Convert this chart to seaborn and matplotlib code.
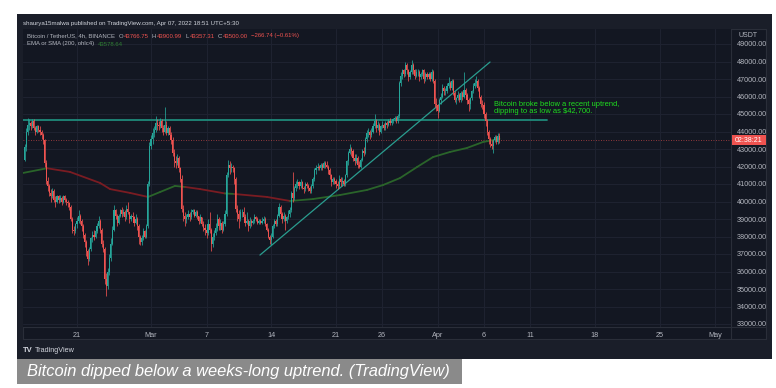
import numpy as np
import pandas as pd
import matplotlib
matplotlib.use("Agg")
import matplotlib.pyplot as plt
import seaborn as sns
from matplotlib import font_manager as fm
from matplotlib.patches import Rectangle
from matplotlib.transforms import blended_transform_factory, Bbox, TransformedBbox

# ---------------- data (prices in thousands of USDT, 4h candles) ----------------
first_candle = "2022-02-15 08:00"
first_open_k = 42.4
close_k = [
    43.1, 44.0, 44.4, 44.5,                      # Feb 15 (from 08:00)
    44.3, 44.6, 44.2, 44.0, 44.3, 44.1,          # Feb 16
    44.0, 43.8, 43.5, 42.2, 41.2, 40.9,          # Feb 17
    40.5, 40.3, 40.6, 40.1, 40.0, 40.3,          # Feb 18
    40.1, 40.2, 40.0, 40.3, 40.1, 40.0,          # Feb 19
    39.9, 39.7, 39.0, 38.4, 38.3, 38.7,          # Feb 20
    38.9, 39.2, 38.9, 38.6, 38.1, 37.7,          # Feb 21
    37.2, 36.7, 37.3, 37.9, 38.1, 38.0,          # Feb 22
    38.3, 38.6, 38.9, 38.4, 37.6, 37.3,          # Feb 23
    35.6, 35.2, 36.0, 36.8, 37.6, 38.4,          # Feb 24
    39.5, 39.2, 38.8, 39.2, 39.5, 39.3,          # Feb 25
    39.4, 39.1, 39.6, 39.4, 39.0, 39.2,          # Feb 26
    39.1, 38.8, 39.0, 38.6, 38.0, 37.7,          # Feb 27
    37.9, 38.3, 38.0, 38.6, 41.0, 43.2,          # Feb 28
    43.6, 43.9, 44.1, 44.5, 44.4, 44.3,          # Mar 1
    44.6, 44.2, 44.0, 44.4, 43.9, 44.2,          # Mar 2
    43.8, 43.5, 42.8, 42.3, 42.2, 42.5,          # Mar 3
    41.9, 41.3, 39.6, 39.2, 39.0, 39.1,          # Mar 4
    39.3, 39.1, 39.4, 39.5, 39.2, 39.4,          # Mar 5
    39.2, 38.9, 39.1, 38.7, 38.5, 38.4,          # Mar 6
    38.2, 38.7, 38.4, 37.6, 38.0, 38.2,          # Mar 7
    38.5, 39.0, 38.6, 38.8, 38.4, 38.7,          # Mar 8
    39.3, 41.5, 42.1, 41.9, 42.0, 41.9,          # Mar 9
    41.3, 39.6, 39.3, 39.0, 39.4, 39.4,          # Mar 10
    39.1, 38.8, 38.9, 38.6, 38.9, 38.8,          # Mar 11
    38.9, 39.1, 39.0, 38.8, 38.9, 38.8,          # Mar 12
    38.9, 39.0, 38.7, 38.4, 38.0, 37.8,          # Mar 13
    38.0, 38.6, 38.9, 38.7, 39.2, 39.7,          # Mar 14
    39.3, 39.0, 39.2, 38.9, 39.1, 39.3,          # Mar 15
    39.5, 40.5, 40.2, 40.8, 41.0, 41.1,          # Mar 16
    40.9, 41.1, 40.8, 40.7, 41.0, 40.9,          # Mar 17
    40.8, 40.6, 40.9, 41.3, 41.8, 41.9,          # Mar 18
    42.0, 41.9, 42.1, 41.9, 42.2, 42.1,          # Mar 19
    42.0, 41.8, 41.5, 41.1, 41.3, 41.2,          # Mar 20
    41.0, 40.9, 41.3, 41.1, 41.2, 41.0,          # Mar 21
    41.5, 42.3, 42.8, 43.0, 42.9, 42.5,          # Mar 22
    42.3, 42.5, 42.1, 42.0, 42.4, 42.9,          # Mar 23
    42.8, 43.6, 43.9, 44.0, 43.8, 44.0,          # Mar 24
    44.3, 44.6, 44.2, 44.4, 44.0, 44.3,          # Mar 25
    44.4, 44.2, 44.5, 44.4, 44.6, 44.5,          # Mar 26
    44.6, 44.7, 44.8, 44.6, 44.9, 46.8,          # Mar 27
    47.2, 47.5, 47.3, 47.8, 47.5, 47.1,          # Mar 28
    47.4, 47.8, 47.5, 47.2, 47.4, 47.4,          # Mar 29
    47.1, 47.3, 47.5, 47.0, 47.3, 47.1,          # Mar 30
    47.3, 47.0, 47.4, 46.9, 45.6, 45.5,          # Mar 31
    45.2, 45.8, 46.0, 46.5, 46.3, 46.3,          # Apr 1
    46.6, 46.8, 46.5, 46.9, 46.2, 45.8,          # Apr 2
    45.9, 46.1, 45.8, 46.2, 46.0, 46.4,          # Apr 3
    46.1, 45.8, 45.6, 45.9, 46.3, 46.6,          # Apr 4
    46.8, 46.9, 46.5, 46.0, 45.6, 45.5,          # Apr 5
    45.0, 44.6, 44.0, 43.6, 43.3, 43.2,          # Apr 6
    43.5, 43.7, 43.4, 43.767, 43.5,              # Apr 7
]
high_k = [
    43.3, 44.2, 44.8, 44.7,
    44.6, 44.7, 44.7, 44.3, 44.4, 44.4,
    44.3, 44.1, 43.9, 43.6, 42.4, 41.4,
    41.0, 40.7, 40.8, 40.7, 40.3, 40.4,
    40.4, 40.4, 40.3, 40.4, 40.4, 40.2,
    40.1, 40.0, 39.8, 39.1, 38.6, 38.8,
    39.1, 39.5, 39.3, 39.0, 38.7, 38.2,
    37.8, 37.3, 37.4, 38.0, 38.3, 38.4,
    38.5, 38.8, 39.2, 39.0, 38.5, 37.8,
    37.4, 35.9, 36.2, 37.0, 37.9, 38.6,
    39.8, 39.6, 39.3, 39.3, 39.6, 39.7,
    39.6, 39.5, 39.8, 40.0, 39.4, 39.3,
    39.4, 39.2, 39.3, 39.1, 38.7, 38.1,
    38.1, 38.5, 38.4, 38.7, 41.2, 43.4,
    43.8, 44.2, 44.3, 44.9, 44.7, 44.6,
    44.8, 44.7, 44.4, 45.4, 44.6, 44.3,
    44.3, 44.0, 43.7, 43.0, 42.6, 42.7,
    42.6, 42.0, 41.5, 39.8, 39.4, 39.3,
    39.5, 39.4, 39.6, 39.6, 39.6, 39.5,
    39.5, 39.2, 39.3, 39.1, 38.9, 38.7,
    38.5, 39.0, 39.4, 38.5, 38.2, 38.4,
    38.8, 39.3, 39.1, 39.0, 38.9, 38.9,
    39.5, 41.7, 42.4, 42.3, 42.2, 42.1,
    42.0, 41.4, 39.8, 39.5, 39.6, 39.6,
    39.7, 39.3, 39.4, 39.0, 39.1, 39.0,
    39.0, 39.3, 39.2, 39.1, 39.0, 39.0,
    39.1, 39.2, 39.1, 38.8, 38.5, 38.1,
    38.2, 38.7, 39.0, 39.0, 39.3, 39.9,
    39.8, 39.4, 39.4, 39.3, 39.2, 39.5,
    39.7, 40.6, 41.7, 40.9, 41.2, 41.3,
    41.2, 41.3, 41.2, 40.9, 41.1, 41.1,
    41.0, 40.9, 41.0, 41.4, 41.9, 42.1,
    42.2, 42.1, 42.2, 42.2, 42.3, 42.3,
    42.3, 42.1, 41.9, 41.6, 41.4, 41.4,
    41.3, 41.2, 41.5, 41.4, 41.4, 41.3,
    41.6, 42.4, 42.9, 43.3, 43.1, 43.0,
    42.7, 42.7, 42.6, 42.3, 42.5, 43.0,
    43.1, 43.7, 44.1, 44.2, 44.1, 44.2,
    44.5, 45.0, 44.7, 44.6, 44.5, 44.4,
    44.6, 44.5, 44.6, 44.6, 44.7, 44.8,
    44.7, 44.8, 44.9, 44.9, 45.0, 46.9,
    47.4, 47.6, 47.6, 48.0, 47.9, 47.6,
    47.5, 48.1, 47.9, 47.6, 47.6, 47.6,
    47.5, 47.4, 47.6, 47.6, 47.4, 47.4,
    47.4, 47.4, 47.6, 47.5, 47.0, 45.9,
    45.6, 45.9, 46.2, 46.7, 46.6, 46.5,
    46.8, 47.1, 46.9, 47.0, 47.0, 46.3,
    46.0, 46.3, 46.2, 46.3, 46.3, 47.4,
    46.5, 46.2, 45.9, 46.0, 46.4, 46.8,
    47.0, 47.2, 47.0, 46.6, 46.1, 45.8,
    45.7, 45.1, 44.7, 44.1, 43.7, 43.5,
    43.6, 43.8, 43.8, 43.9, 43.901,
]
low_k = [
    42.3, 42.9, 43.8, 44.1,
    44.1, 44.2, 44.1, 43.8, 43.9, 44.0,
    43.8, 43.6, 43.3, 42.0, 41.0, 40.6,
    40.3, 40.0, 40.2, 40.0, 39.7, 39.9,
    39.9, 40.0, 39.8, 39.9, 40.0, 39.8,
    39.7, 39.5, 38.9, 38.2, 38.1, 38.2,
    38.5, 38.8, 38.7, 38.3, 37.9, 37.4,
    36.9, 36.4, 36.6, 37.2, 37.7, 37.8,
    37.9, 38.2, 38.5, 38.2, 37.4, 37.1,
    35.3, 34.6, 35.0, 35.8, 36.6, 37.5,
    38.3, 39.0, 38.6, 38.7, 39.1, 39.1,
    39.2, 38.9, 39.0, 39.3, 38.8, 38.9,
    38.9, 38.6, 38.7, 38.4, 37.6, 37.5,
    37.5, 37.8, 37.9, 37.9, 38.5, 40.9,
    43.0, 43.3, 43.7, 44.0, 44.1, 44.1,
    44.2, 44.0, 43.8, 43.9, 43.8, 43.8,
    43.6, 43.3, 42.6, 42.0, 41.9, 42.1,
    41.7, 41.1, 39.4, 38.9, 38.6, 38.8,
    39.0, 38.9, 39.0, 39.3, 39.1, 39.1,
    39.0, 38.7, 38.8, 38.6, 38.3, 38.1,
    37.9, 38.1, 38.2, 37.2, 37.4, 37.8,
    38.1, 38.3, 38.4, 38.4, 38.2, 38.3,
    38.6, 39.2, 41.4, 41.6, 41.7, 41.7,
    41.0, 39.4, 38.9, 38.5, 38.9, 39.1,
    38.9, 38.6, 38.7, 38.3, 38.5, 38.6,
    38.7, 38.8, 38.9, 38.7, 38.7, 38.7,
    38.7, 38.8, 38.6, 38.3, 37.9, 37.6,
    37.5, 37.9, 38.5, 38.6, 38.6, 39.1,
    39.1, 38.8, 38.9, 38.4, 38.8, 39.0,
    39.1, 39.4, 40.0, 40.1, 40.6, 40.8,
    40.7, 40.8, 40.7, 40.5, 40.6, 40.8,
    40.6, 40.5, 40.5, 40.8, 41.2, 41.6,
    41.8, 41.8, 41.8, 41.8, 41.9, 41.9,
    41.9, 41.6, 41.3, 40.9, 41.0, 41.0,
    40.8, 40.7, 40.8, 40.9, 40.9, 40.9,
    40.9, 41.4, 42.1, 42.7, 42.6, 42.3,
    42.1, 42.2, 41.9, 41.9, 41.9, 42.3,
    42.6, 42.7, 43.4, 43.7, 43.6, 43.7,
    43.9, 44.2, 44.0, 44.1, 43.8, 43.9,
    44.2, 44.1, 44.1, 44.2, 44.3, 44.4,
    44.4, 44.5, 44.6, 44.5, 44.5, 44.8,
    46.6, 47.0, 47.1, 47.2, 47.3, 46.9,
    47.0, 47.3, 47.3, 47.0, 47.1, 47.2,
    46.9, 47.0, 47.2, 46.8, 46.9, 47.0,
    47.0, 46.9, 46.9, 46.8, 45.4, 45.2,
    44.8, 45.1, 45.6, 45.9, 46.1, 46.1,
    46.2, 46.5, 46.4, 46.4, 46.1, 45.7,
    45.6, 45.8, 45.7, 45.7, 45.8, 45.9,
    45.9, 45.6, 45.2, 45.3, 45.8, 46.2,
    46.5, 46.6, 46.3, 45.9, 45.4, 45.3,
    44.8, 44.3, 43.8, 43.3, 43.1, 43.0,
    42.75, 43.4, 43.3, 43.3, 43.357,
]

# 200-period moving average (day 0 = Feb 21)
ma_day = [-5.84, -3.24, -0.76, 2.49, 3.57, 5.73, 7.68, 8.97, 10.59, 11.70, 13.30,
          16.00, 17.00, 20.54, 23.03, 25.51, 28.43, 31.35, 33.08, 34.92, 36.76,
          38.49, 40.32, 42.16, 43.89, 45.67]
ma_k = [41.63, 41.90, 41.69, 41.06, 40.71, 40.49, 40.26, 40.54, 40.89, 40.83, 40.71,
        40.46, 40.43, 40.26, 40.03, 40.14, 40.37, 40.66, 40.94, 41.34, 41.97,
        42.54, 42.83, 43.06, 43.40, 43.58]
ma_segment_above = [1, 0, 0, 0, 0, 0, 1, 1, 1, 0, 0, 1, 0, 0, 1, 1, 1, 1, 1, 1, 1, 1, 1, 1, 1]

# drawings
resistance_k = 44.66
resistance_end_day = 50.8
uptrend_day = [19.78, 44.65]
uptrend_k = [36.94, 47.97]
last_price = 43500.0

tick_dates = ["2022-02-21", "2022-03-01", "2022-03-07", "2022-03-14", "2022-03-21", "2022-03-26",
              "2022-04-01", "2022-04-06", "2022-04-11", "2022-04-18", "2022-04-25", "2022-05-01"]
tick_labels = ["21", "Mar", "7", "14", "21", "26", "Apr", "6", "11", "18", "25", "May"]
price_ticks = list(range(33000, 50000, 1000))

# ---------------- style ----------------
sns.set_theme(style="dark")

def has_font(name):
    try:
        fm.findfont(fm.FontProperties(family=name), fallback_to_default=False)
        return True
    except Exception:
        return False

NARROW = "Liberation Sans Narrow" if has_font("Liberation Sans Narrow") else "Liberation Sans"
plt.rcParams["font.family"] = [NARROW, "DejaVu Sans"]

BG_OUT = "#1a1e29"
PANE = "#131722"
GRID = "#1e2230"
BORDER = "#2a2e39"
UP = "#26a69a"
DOWN = "#ef5350"
TXT = "#b2b5be"

W, H = 776, 388
fig = plt.figure(figsize=(W / 100, H / 100), dpi=100)
fig.patch.set_facecolor("white")

def rect(x0, y0, x1, y1):
    return [x0 / W, 1 - y1 / H, (x1 - x0) / W, (y1 - y0) / H]

# background layer (pixel coords)
axb = fig.add_axes([0, 0, 1, 1], zorder=0)
axb.set_xlim(0, W); axb.set_ylim(H, 0); axb.axis("off")
axb.add_patch(Rectangle((17, 14), 755, 345, color=BG_OUT, lw=0))
axb.add_patch(Rectangle((23, 29), 743, 310, color=PANE, lw=0))
for (x0, y0, x1, y1) in [(23, 29, 766, 29), (23, 339, 766, 339), (23, 29, 23, 339),
                         (766, 29, 766, 339), (731, 29, 731, 339), (23, 327, 766, 327)]:
    axb.plot([x0, x1], [y0, y1], color=BORDER, lw=0.8)
axb.add_patch(Rectangle((17, 359), 445, 25, color="#8a8a8a", lw=0))

# main pane
PX0, PX1, PY0, PY1 = 23, 731, 29, 327
ax = fig.add_axes(rect(PX0, PY0, PX1, PY1), zorder=1)
ax.set_facecolor(PANE)
day_of = lambda px: (px - 77) / 9.25
price_of = lambda py: 49000 - (py - 44) / 17.5 * 1000
ax.set_xlim(day_of(PX0), day_of(PX1))
ax.set_ylim(price_of(PY1), price_of(PY0))

ts = pd.date_range(first_candle, periods=len(close_k), freq="4h")
day = ((ts - pd.Timestamp("2022-02-21")) / pd.Timedelta("1D")).to_numpy()
c = np.array(close_k) * 1000
o = np.concatenate([[first_open_k * 1000], c[:-1]])
hi = np.maximum(np.array(high_k) * 1000, np.maximum(o, c))
lo = np.minimum(np.array(low_k) * 1000, np.minimum(o, c))
col = np.where(c >= o, UP, DOWN)

# grid + ticks
tdays = ((pd.to_datetime(tick_dates) - pd.Timestamp("2022-02-21")) / pd.Timedelta("1D")).to_numpy()
ax.set_xticks(tdays)
ax.set_xticklabels(tick_labels)
ax.set_yticks(price_ticks)
ax.set_yticklabels(["" if p == price_ticks[0] else f"{p:.2f}" for p in price_ticks])
ax.grid(True, color=GRID, lw=0.8)
ax.yaxis.tick_right()
ax.tick_params(axis="both", length=0, colors=TXT, labelsize=5.2)
ax.tick_params(axis="x", pad=3.5)
ax.tick_params(axis="y", pad=4.0)
for s in ax.spines.values():
    s.set_visible(False)

# last price dotted line
ax.axhline(last_price, color=DOWN, lw=0.6, ls=(0, (1, 2)), alpha=0.75, zorder=2)

# moving average (coloured by price position)
ma_df = pd.DataFrame({"day": ma_day, "price": np.array(ma_k) * 1000})
for i, above in enumerate(ma_segment_above):
    seg = ma_df.iloc[i:i + 2]
    sns.lineplot(data=seg, x="day", y="price", ax=ax, color="#2a642a" if above else "#7a1c22",
                 lw=1.3, sort=False, estimator=None, zorder=3)

# resistance + uptrend lines
sns.lineplot(x=[day_of(PX0), resistance_end_day], y=[resistance_k * 1000] * 2, ax=ax,
             color="#1f8a7a", lw=1.3, estimator=None, zorder=4)
sns.lineplot(x=uptrend_day, y=np.array(uptrend_k) * 1000, ax=ax, color="#2a9d8f",
             lw=0.9, estimator=None, zorder=4)

# candles
ax.vlines(day, lo, hi, colors=col, lw=0.55, zorder=5)
ax.bar(day, np.maximum(np.abs(c - o), 25), bottom=np.minimum(o, c), width=0.12,
       color=col, lw=0, zorder=6)
ax.set_xlabel(""); ax.set_ylabel("")

ax.text(day_of(494), price_of(108), "Bitcoin broke below a recent uptrend,\ndipping to as low as $42,700.",
        color="#1fe01f", fontsize=5.4, va="center", ha="left", linespacing=1.15, zorder=7)

# overlay text layer
axt = fig.add_axes([0, 0, 1, 1], zorder=3)
axt.set_xlim(0, W); axt.set_ylim(H, 0); axt.axis("off")
axt.patch.set_alpha(0)

# bottom price label, clipped by the time scale like the original
clipbox = TransformedBbox(Bbox([[731, 29], [766, 327]]), axt.transData)
ylab = axt.text(737, price_ticks[0], f"{price_ticks[0]:.2f}",
                transform=blended_transform_factory(axt.transData, ax.transData),
                color=TXT, fontsize=5.2, va="center", ha="left")
ylab.set_clip_box(clipbox)
ylab.set_clip_on(True)

axt.text(23, 23, "shaurya15malwa published on TradingView.com, Apr 07, 2022 18:51 UTC+5:30",
         color="#d1d4dc", fontsize=4.45, va="center")
axt.text(748.5, 35.5, "USDT", color=TXT, fontsize=5.0, va="center", ha="center")

renderer = fig.canvas.get_renderer()
LEG_FS = 4.3
x = 27
parts = [("Bitcoin / TetherUS, 4h, BINANCE", TXT, 3.5), ("O", TXT, 0.9), ("43766.75", DOWN, 3),
         ("H", TXT, 0.9), ("43900.99", DOWN, 3), ("L", TXT, 0.9), ("43357.31", DOWN, 3),
         ("C", TXT, 0.9), ("43500.00", DOWN, 3), ("\u2212266.74 (\u22120.61%)", DOWN, 0)]
for s, colr, gap in parts:
    t = axt.text(x, 36, s, color=colr, fontsize=LEG_FS, va="center")
    x += t.get_window_extent(renderer=renderer).width + gap
x = 27
for s, colr, gap in [("EMA or SMA (200, ohlc4)", TXT, 3.5), ("43578.64", "#2e7d32", 0)]:
    t = axt.text(x, 44, s, color=colr, fontsize=LEG_FS, va="center")
    x += t.get_window_extent(renderer=renderer).width + gap

# countdown label on price scale
bt = blended_transform_factory(axt.transData, ax.transData)
axt.add_patch(Rectangle((731.5, last_price - 290), 34, 580, transform=bt, color=DOWN, lw=0, zorder=5))
axt.text(748.5, last_price, "02:38:21", transform=bt, color="white", fontsize=5.0,
         va="center", ha="center", zorder=6)

# TradingView footer
axt.text(23, 350, "TV", color="#d1d4dc", fontsize=5.5, fontweight="bold", va="center")
axt.text(35, 350, "TradingView", color="#d1d4dc", fontsize=5.2, va="center")

# caption
axt.text(27, 371.5, "Bitcoin dipped below a weeks-long uptrend. (TradingView)", color="white",
         fontsize=11.9, style="italic", va="center", ha="left")

fig.savefig("out.png", dpi=100, facecolor="white")
